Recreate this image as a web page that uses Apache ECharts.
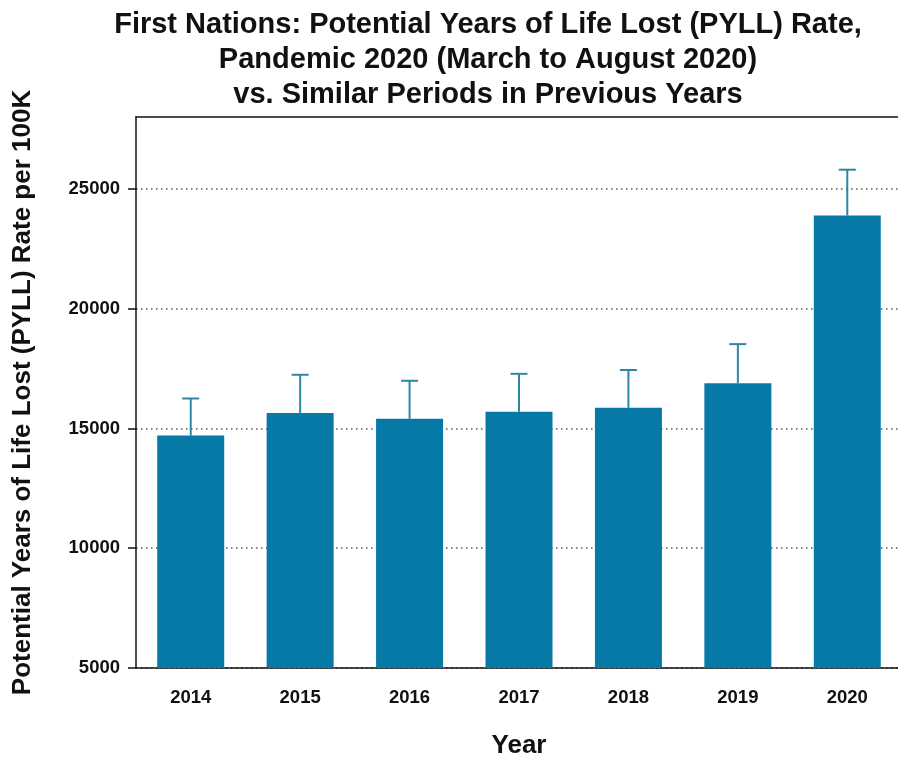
<!DOCTYPE html>
<html>
<head>
<meta charset="utf-8">
<script src="https://cdn.jsdelivr.net/npm/echarts@6/dist/echarts.min.js"></script>
<style>
  html, body { margin: 0; padding: 0; background: #fff; }
  #chart { width: 898px; height: 757px; }
</style>
</head>
<body>
<div id="chart"></div>
<script>
// PYLL rate per 100K, March–August of each year
const years = ['2014', '2015', '2016', '2017', '2018', '2019', '2020'];
const pyllRate = [14700, 15640, 15400, 15700, 15860, 16890, 23890];
const upperBound = [16250, 17240, 16990, 17280, 17440, 18520, 25800];
const yTicks = [5000, 10000, 15000, 20000, 25000];

const FONT = '"Liberation Sans", Arial, sans-serif';
const BAR_COLOR = '#0779a7';
const ERR_COLOR = '#2f86a4';

const chart = echarts.init(document.getElementById('chart'), null, { renderer: 'canvas' });

chart.setOption({
  animation: false,
  backgroundColor: '#ffffff',
  title: {
    text: 'First Nations: Potential Years of Life Lost (PYLL) Rate,\nPandemic 2020 (March to August 2020)\nvs. Similar Periods in Previous Years',
    left: 483,
    top: 2,
    textAlign: 'center',
    textStyle: {
      fontFamily: FONT,
      fontWeight: 'bold',
      fontSize: 29,
      lineHeight: 35,
      color: '#111'
    }
  },
  grid: { left: 136, top: 117, width: 766, height: 551, outerBoundsMode: 'none' },
  xAxis: [{
    type: 'category',
    data: years,
    name: 'Year',
    nameLocation: 'middle',
    nameGap: 65,
    nameTextStyle: { fontFamily: FONT, fontWeight: 'bold', fontSize: 26, color: '#111' },
    axisLine: { lineStyle: { color: '#111', width: 1.5 } },
    axisTick: { alignWithLabel: true, length: 8, lineStyle: { color: '#111', width: 1.5 } },
    axisLabel: { fontFamily: FONT, fontWeight: 'bold', fontSize: 18.5, color: '#111', margin: 20 },
    splitLine: { show: false }
  }, {
    // top frame line
    type: 'category',
    position: 'top',
    data: years,
    axisLine: { lineStyle: { color: '#111', width: 1.5 } },
    axisTick: { show: false },
    axisLabel: { show: false }
  }],
  yAxis: {
    type: 'value',
    min: 5000,
    max: 28000,
    interval: 5000,
    name: 'Potential Years of Life Lost (PYLL) Rate per 100K',
    nameLocation: 'middle',
    nameGap: 100,
    nameTextStyle: { fontFamily: FONT, fontWeight: 'bold', fontSize: 26, color: '#111' },
    axisLine: { show: true, lineStyle: { color: '#111', width: 1.5 } },
    axisTick: { show: true, length: 8, customValues: yTicks, lineStyle: { color: '#111', width: 1.5 } },
    axisLabel: {
      customValues: yTicks,
      formatter: (v) => String(v),
      fontFamily: FONT, fontWeight: 'bold', fontSize: 18.5, color: '#111', margin: 16
    },
    splitLine: {
      show: true,
      lineStyle: { color: '#555', type: [1.5, 3.5], width: 1.5 }
    }
  },
  series: [{
    type: 'bar',
    data: pyllRate,
    barWidth: 67,
    itemStyle: { color: BAR_COLOR },
    z: 2
  }, {
    type: 'custom',
    data: years.map((y, i) => [i, pyllRate[i], upperBound[i]]),
    z: 3,
    renderItem: function (params, api) {
      const idx = api.value(0);
      const base = api.coord([idx, api.value(1)]);
      const top = api.coord([idx, api.value(2)]);
      const half = 8.5;
      const style = { stroke: ERR_COLOR, lineWidth: 2, fill: null };
      return {
        type: 'group',
        children: [
          { type: 'line', shape: { x1: base[0], y1: base[1], x2: top[0], y2: top[1] }, style: style },
          { type: 'line', shape: { x1: top[0] - half, y1: top[1], x2: top[0] + half, y2: top[1] }, style: style }
        ]
      };
    }
  }]
});
</script>
</body>
</html>
